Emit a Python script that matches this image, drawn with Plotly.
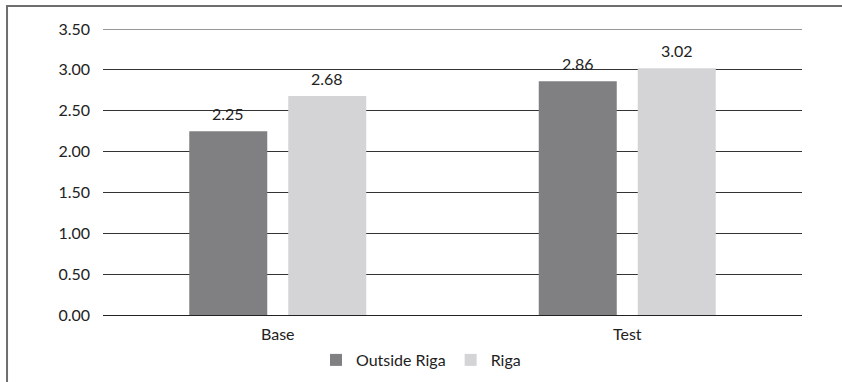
import plotly.graph_objects as go

categories = ["Base", "Test"]
outside_riga = [2.25, 2.86]
riga = [2.68, 3.02]
y_ticks = [0, 0.5, 1.0, 1.5, 2.0, 2.5, 3.0, 3.5]

DARK = "#808083"
LIGHT = "#d4d4d6"
FONT = "Lato"
TXT = "#222222"
GRID = "#333333"

fig = go.Figure()
fig.add_trace(go.Bar(name="Outside Riga", x=categories, y=outside_riga,
                     marker=dict(color=DARK, line=dict(width=0))))
fig.add_trace(go.Bar(name="Riga", x=categories, y=riga,
                     marker=dict(color=LIGHT, line=dict(width=0))))

# value labels above each bar
for i, vals in enumerate([outside_riga, riga]):
    for j, v in enumerate(vals):
        fig.add_annotation(
            x=categories[j], y=v, text=f"{v:.2f}", showarrow=False,
            xref="x", yref="y", yanchor="bottom", yshift=6,
            xshift=(-49.5 if i == 0 else 49.5),
            font=dict(family=FONT, size=16, color=TXT),
        )

# gridline at the top tick (sits on the edge of the plot area)
fig.add_shape(type="line", xref="paper", yref="y",
              x0=0, x1=1, y0=y_ticks[-1], y1=y_ticks[-1],
              line=dict(color=GRID, width=1), layer="below")

# outer frame (right and bottom edges run past the page)
fig.add_shape(type="rect", xref="paper", yref="paper",
              x0=-0.1373, x1=1.2, y0=-0.4, y1=1.0804,
              line=dict(color="#6e6e6e", width=2), layer="below")

fig.update_layout(
    width=842, height=382,
    margin=dict(l=103, r=40, t=29, b=67, autoexpand=False),
    paper_bgcolor="white", plot_bgcolor="white",
    barmode="group", bargap=0.4335, bargroupgap=0.212,
    font=dict(family=FONT, size=16, color=TXT),
    showlegend=True,
    legend=dict(orientation="h", xref="container", yref="container",
                x=0.5, xanchor="center", y=22 / 382, yanchor="middle",
                font=dict(family=FONT, size=16, color=TXT),
                itemwidth=30, traceorder="normal"),
    xaxis=dict(showgrid=False, showline=False, ticks="", zeroline=False,
               automargin=False, ticklabelstandoff=8,
               tickfont=dict(family=FONT, size=16, color=TXT)),
    yaxis=dict(range=[0, 3.5], tickvals=y_ticks, tickformat=".2f",
               showgrid=True, gridcolor=GRID, gridwidth=1,
               zeroline=True, zerolinecolor="#222222", zerolinewidth=1,
               showline=False, ticks="", ticklabelstandoff=12,
               automargin=False,
               tickfont=dict(family=FONT, size=16, color=TXT)),
)

fig.write_html("out.html")
